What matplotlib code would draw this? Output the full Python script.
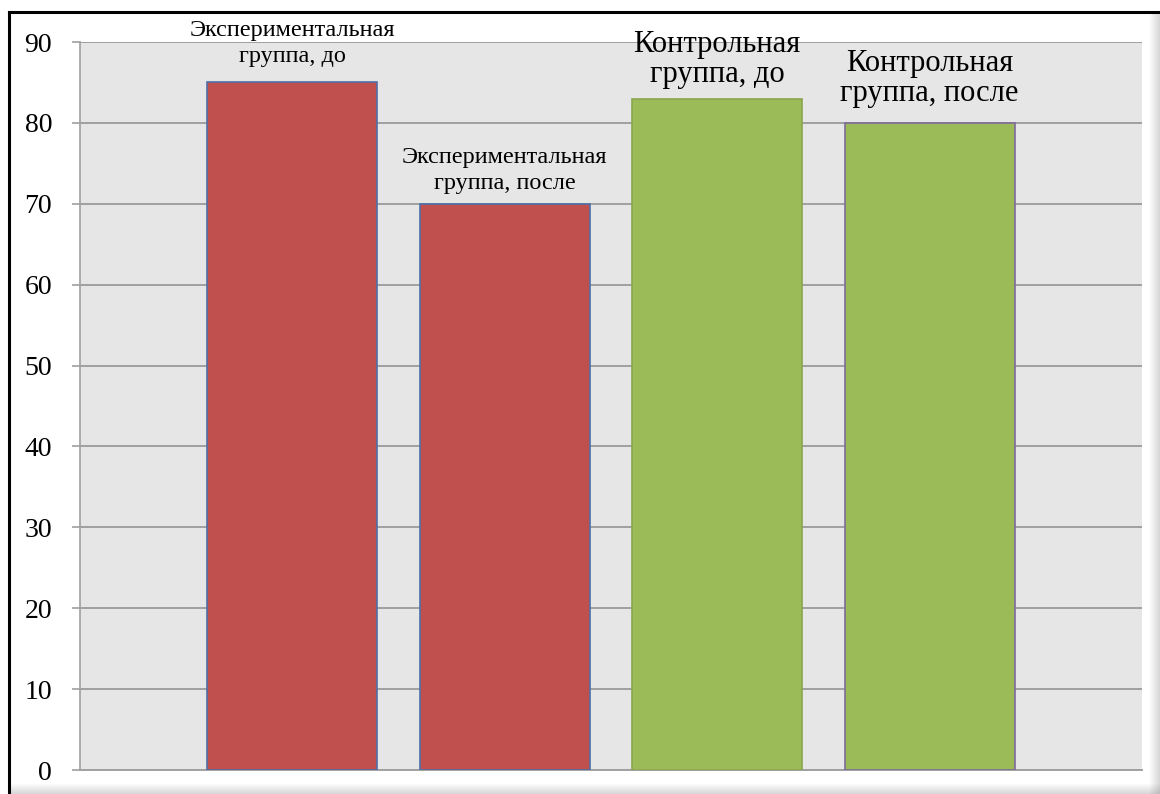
import numpy as np
import matplotlib.pyplot as plt
from matplotlib.patches import Rectangle
from matplotlib.lines import Line2D

plt.rcParams['font.family'] = ['Liberation Serif', 'DejaVu Serif']

# данные
labels = ['Экспериментальная\nгруппа, до', 'Экспериментальная\nгруппа, после',
          'Контрольная\nгруппа, до', 'Контрольная\nгруппа, после']
values = [85, 70, 83, 80]
yticks = [0, 10, 20, 30, 40, 50, 60, 70, 80, 90]

colors = ['#C0504D', '#C0504D', '#9BBB59', '#9BBB59']
edges = ['#4F6FA8', '#4F6FA8', '#8AA64E', '#7F6A9A']
label_size = [17.5, 17.5, 22, 22]
label_space = [1.3, 1.3, 1.05, 1.05]
label_off = [11, 7, 7, 11]

W, H = 1160, 794
fig = plt.figure(figsize=(W / 100, H / 100), dpi=100)
ax = fig.add_axes([80 / W, 24 / H, 1062 / W, 728 / H])
ax.set_facecolor('#E6E6E6')

x = np.arange(len(values))
ax.bar(x, values, width=0.8, color=colors, edgecolor=edges, linewidth=1.2, zorder=3)

for i in range(len(values)):
    ax.annotate(labels[i], xy=(x[i], values[i]), xytext=(0, label_off[i]),
                textcoords='offset points', ha='center', va='bottom',
                fontsize=label_size[i], linespacing=label_space[i], zorder=4,
                annotation_clip=False)

ax.set_xlim(-1, 4)
ax.set_ylim(0, 90)
ax.set_yticks(yticks)
ax.set_xticks([])
ax.yaxis.grid(True, color='#A0A0A0', linewidth=1.4, zorder=1)
ax.set_axisbelow(True)
for s in ['top', 'right']:
    ax.spines[s].set_visible(False)
ax.spines['left'].set_color('#A0A0A0')
ax.spines['bottom'].set_color('#A0A0A0')
ax.spines['left'].set_linewidth(1.2)
ax.spines['bottom'].set_linewidth(1.4)
ax.tick_params(axis='y', length=6, color='#A0A0A0', width=1.2, pad=14, labelsize=20)

# рамка и тень
fig.add_artist(Line2D([9 / W, 9 / W], [0.0, 1 - 12 / H], transform=fig.transFigure,
                      color='black', linewidth=2.2))
fig.add_artist(Line2D([9 / W, 1.0], [1 - 12 / H, 1 - 12 / H], transform=fig.transFigure,
                      color='black', linewidth=2.2))
for k in range(10):
    a = 0.04 + 0.03 * k
    fig.add_artist(Rectangle(((1150 + k) / W, 0), 1 / W, 1 - 14 / H, transform=fig.transFigure,
                             color='#808080', alpha=a, linewidth=0))
    fig.add_artist(Rectangle((10 / W, (9 - k) / H), 1 - 10 / W, 1 / H, transform=fig.transFigure,
                             color='#808080', alpha=a, linewidth=0))

fig.savefig('out.png', dpi=100)
